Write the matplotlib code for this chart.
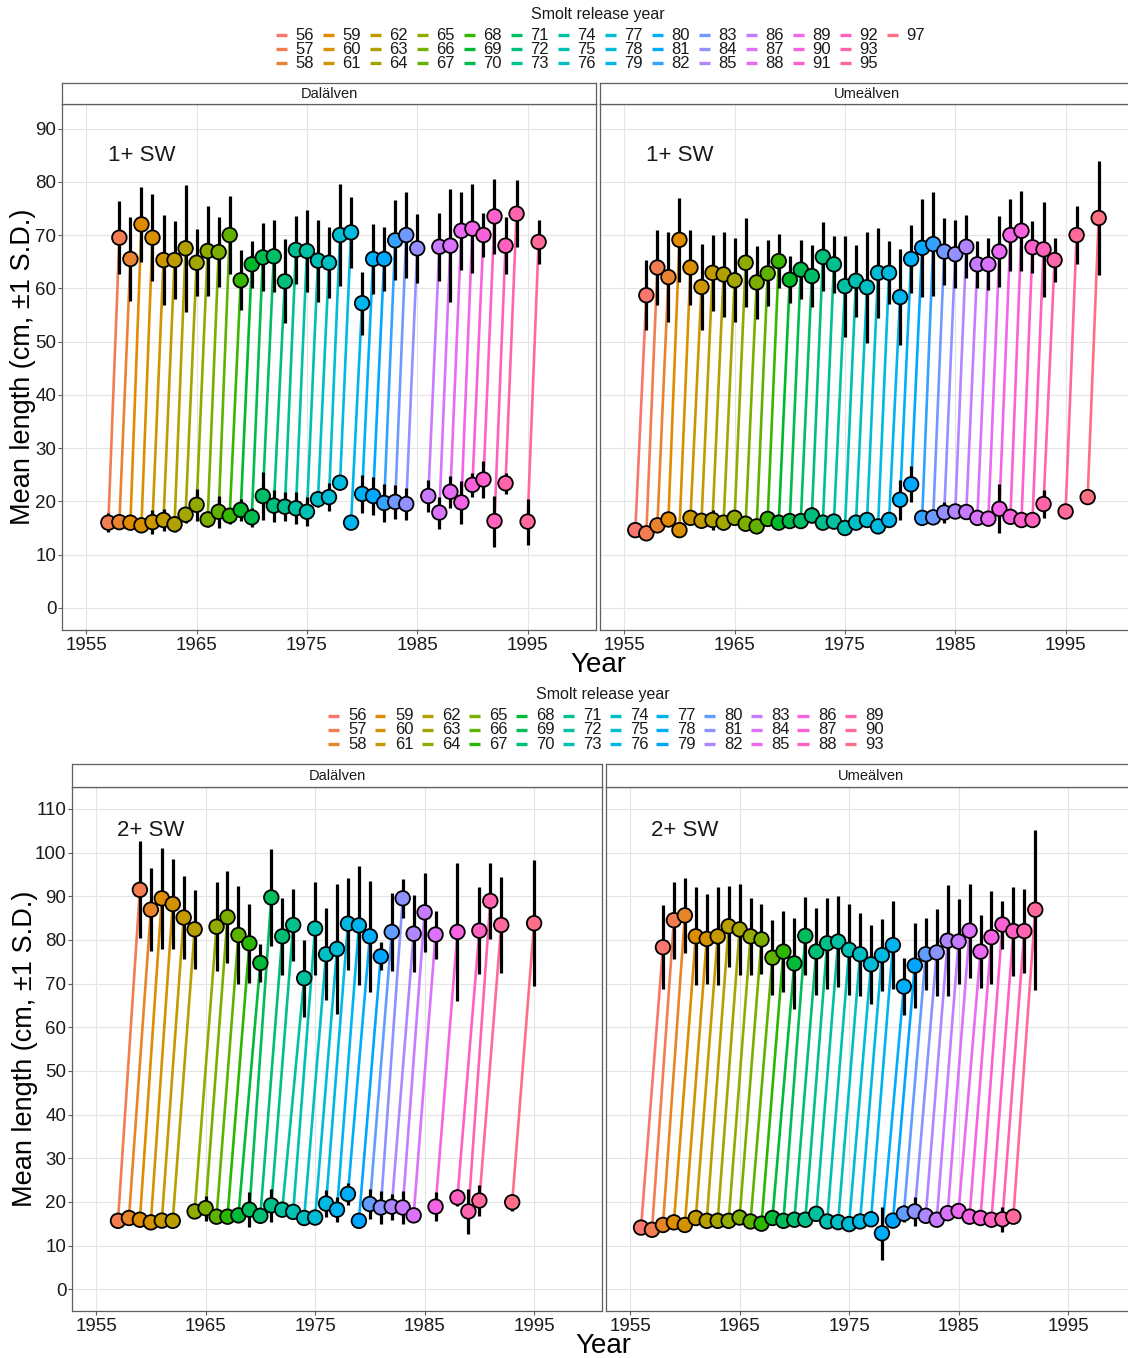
import numpy as np
import matplotlib
matplotlib.use("Agg")
import matplotlib.pyplot as plt
from matplotlib.lines import Line2D

plt.rcParams['font.family'] = ['Liberation Sans', 'DejaVu Sans']

# ---------------- DATA ----------------
# Dalälven, 1+ SW (smolt release years, smolt length, adult length one year later)
dal1_year = list(range(57, 85)) + list(range(86, 94)) + [95]
dal1_smolt = [16.0, 16.1, 16.0, 15.5, 16.1, 16.5, 15.7, 17.5, 19.35, 16.6, 18.05, 17.3, 18.4, 17.0,
              21.0, 19.2, 19.0, 18.7, 18.05, 20.4, 20.8, 23.5, 16.0, 21.4, 21.0, 19.7, 19.9, 19.5,
              21.0, 17.9, 21.8, 19.8, 23.1, 24.1, 16.3, 23.4, 16.2]
dal1_smolt_sd = [1.8, 1.2, 1.2, 1.2, 2.3, 2.0, 1.5, 1.5, 3.0, 1.5, 3.0, 1.5, 2.0, 1.8,
                 4.5, 3.0, 2.7, 3.0, 2.7, 1.5, 2.7, 1.2, 1.0, 3.5, 3.5, 3.5, 3.2, 3.0,
                 3.0, 3.0, 3.0, 4.0, 2.3, 3.5, 4.8, 2.0, 4.3]
dal1_adult = [69.5, 65.5, 72.0, 69.5, 65.3, 65.3, 67.5, 64.8, 67.0, 66.8, 70.0, 61.5, 64.5, 65.8,
              66.0, 61.3, 67.2, 67.0, 65.2, 64.8, 70.0, 70.5, 57.2, 65.5, 65.5, 69.0, 70.0, 67.5,
              67.8, 68.0, 70.8, 71.2, 70.0, 73.5, 68.0, 74.0, 68.7]
dal1_adult_sd = [6.9, 7.9, 7.0, 8.2, 8.4, 7.3, 11.9, 6.3, 8.5, 6.6, 7.4, 5.6, 4.4, 6.4,
                 6.75, 7.9, 6.3, 7.7, 7.7, 6.7, 9.5, 6.6, 5.9, 6.6, 6.0, 7.5, 8.1, 6.5,
                 6.4, 10.6, 7.3, 8.3, 4.2, 7.0, 5.4, 6.3, 4.05]

# Umeälven, 1+ SW
ume1_year = list(range(56, 94)) + [95, 97]
ume1_smolt = [14.6, 14.0, 15.5, 16.6, 14.6, 16.9, 16.35, 16.5, 16.0, 16.9, 15.8, 15.3, 16.7, 16.0,
              16.3, 16.3, 17.35, 16.0, 16.2, 15.0, 16.0, 16.5, 15.3, 16.5, 20.3, 23.2, 16.9, 17.0,
              17.9, 18.1, 18.0, 16.9, 16.75, 18.6, 17.1, 16.5, 16.5, 19.5, 18.1, 20.8]
ume1_smolt_sd = [1.0, 1.2, 1.0, 1.0, 1.0, 1.0, 1.0, 1.8, 1.0, 1.3, 1.0, 1.0, 1.2, 1.0,
                 1.0, 1.0, 1.5, 1.0, 1.0, 1.0, 1.0, 1.0, 1.0, 1.0, 3.8, 3.4, 1.0, 1.0,
                 2.0, 1.2, 1.2, 1.0, 1.2, 4.6, 1.0, 1.0, 1.0, 2.6, 1.0, 1.0]
ume1_adult = [58.7, 63.9, 62.1, 69.1, 63.9, 60.25, 62.9, 62.6, 61.5, 64.8, 61.1, 62.8, 65.1, 61.6,
              63.5, 62.3, 65.9, 64.5, 60.4, 61.4, 60.2, 62.9, 62.9, 58.35, 65.5, 67.6, 68.3, 66.9,
              66.4, 67.8, 64.5, 64.5, 66.9, 70.0, 70.8, 67.7, 67.3, 65.3, 70.0, 73.2]
ume1_adult_sd = [6.6, 7.1, 8.5, 7.9, 7.0, 8.1, 7.1, 7.9, 7.9, 8.4, 6.9, 6.2, 5.05, 4.4,
                 5.6, 5.9, 6.5, 5.4, 9.5, 6.8, 10.4, 8.4, 5.9, 9.0, 6.4, 9.2, 9.8, 6.3,
                 6.4, 5.9, 4.4, 4.9, 6.7, 6.8, 7.5, 4.9, 8.9, 4.1, 5.4, 10.7]

# Dalälven, 2+ SW (adult length two years after release)
dal2_year = list(range(57, 63)) + list(range(64, 85)) + [86, 88, 89, 90, 93]
dal2_smolt = [15.65, 16.3, 15.9, 15.3, 15.7, 15.65,
              17.8, 18.55, 16.6, 16.6, 16.9, 18.2, 16.8, 19.2, 18.2, 17.7, 16.3, 16.4, 19.6, 18.2,
              21.8, 15.65, 19.5, 18.7, 18.9, 18.7, 16.9,
              18.9, 21.0, 17.8, 20.3, 19.9]
dal2_smolt_sd = [1.0, 1.0, 1.0, 1.0, 1.5, 1.0,
                 1.0, 2.9, 1.0, 1.0, 1.0, 4.0, 1.0, 3.8, 1.5, 1.0, 1.5, 1.5, 3.0, 2.9,
                 2.6, 1.0, 3.4, 3.8, 3.0, 3.7, 1.5,
                 3.4, 2.0, 5.2, 3.6, 1.9]
dal2_adult = [91.45, 86.9, 89.5, 88.2, 85.1, 82.4,
              83.0, 85.2, 81.1, 79.2, 74.7, 89.7, 80.8, 83.4, 71.2, 82.6, 76.7, 77.9, 83.7, 83.3,
              80.8, 76.2, 81.8, 89.5, 81.4, 86.3, 81.2,
              81.8, 82.1, 88.9, 83.4, 83.8]
dal2_adult_sd = [11.1, 9.5, 11.5, 10.2, 9.5, 9.0,
                 10.2, 10.6, 11.2, 9.0, 4.4, 11.1, 8.8, 8.2, 8.8, 10.6, 10.5, 14.9, 10.5, 13.7,
                 12.7, 3.2, 9.0, 4.4, 8.8, 9.0, 5.5,
                 15.9, 9.9, 8.6, 11.0, 14.4]

# Umeälven, 2+ SW
ume2_year = list(range(56, 91))
ume2_smolt = [14.1, 13.6, 14.7, 15.3, 14.7, 16.3, 15.65, 15.65, 15.65, 16.4, 15.5, 15.0, 16.3, 15.65,
              15.9, 15.9, 17.25, 15.5, 15.35, 14.9, 15.5, 16.0, 12.8, 15.7, 17.3, 17.8, 16.8, 15.9,
              17.4, 17.9, 16.6, 16.3, 15.9, 16.0, 16.6]
ume2_smolt_sd = [1.0, 1.0, 1.0, 1.0, 1.0, 1.0, 1.0, 1.0, 1.0, 1.0, 1.0, 1.0, 1.0, 1.0,
                 1.0, 1.0, 1.0, 1.0, 1.0, 1.0, 1.0, 1.0, 6.1, 1.0, 2.0, 3.4, 1.0, 1.0,
                 1.0, 1.0, 1.0, 1.0, 1.0, 2.9, 1.0]
ume2_adult = [78.3, 84.5, 85.6, 80.8, 80.2, 80.8, 83.1, 82.4, 80.8, 80.1, 75.9, 77.3, 74.6, 80.9,
              77.3, 79.2, 79.6, 77.7, 76.7, 74.4, 76.5, 78.8, 69.3, 74.1, 76.7, 77.1, 79.8, 79.6,
              82.1, 77.3, 80.6, 83.5, 82.0, 82.0, 86.9]
ume2_adult_sd = [9.6, 8.8, 8.6, 11.2, 10.4, 11.2, 9.3, 10.4, 8.8, 8.0, 8.6, 9.3, 10.5, 9.0,
                 10.0, 10.4, 10.5, 10.4, 9.5, 9.0, 8.3, 10.0, 6.5, 9.8, 8.2, 10.0, 12.7, 9.8,
                 10.8, 8.3, 10.6, 5.5, 10.2, 9.6, 18.3]

rivers = ["Dalälven", "Umeälven"]
sea_labels = ["1+ SW", "2+ SW"]
x_ticks = [1955, 1965, 1975, 1985, 1995]
y_ticks_top = list(range(0, 91, 10))
y_ticks_bottom = list(range(0, 111, 10))
legend_title = "Smolt release year"
x_title = "Year"
y_title = "Mean length (cm, \u00b11 S.D.)"

# ---------------- COLOURS (ggplot2 hue palette) ----------------
def hcl_hex(h, c=100.0, l=65.0):
    Xn, Yn, Zn = 95.047, 100.0, 108.883
    hr = np.deg2rad(h)
    u, v = c * np.cos(hr), c * np.sin(hr)
    Y = Yn * ((l + 16.0) / 116.0) ** 3 if l > 8 else Yn * l / 903.3
    d = Xn + 15 * Yn + 3 * Zn
    un, vn = 4 * Xn / d, 9 * Yn / d
    up, vp = u / (13 * l) + un, v / (13 * l) + vn
    X = 9.0 * Y * up / (4.0 * vp)
    Z = -X / 3.0 - 5.0 * Y + 3.0 * Y / vp
    M = np.array([[3.240479, -1.537150, -0.498535],
                  [-0.969256, 1.875992, 0.041556],
                  [0.055648, -0.204043, 1.057311]])
    rgb = M @ (np.array([X, Y, Z]) / 100.0)
    out = []
    for ch in rgb:
        ch = 12.92 * ch if ch <= 0.0031308 else 1.055 * ch ** (1 / 2.4) - 0.055
        out.append(min(max(ch, 0.0), 1.0))
    return tuple(out)

def hue_pal(levels):
    n = len(levels)
    return {lv: hcl_hex(15 + 360.0 * i / n) for i, lv in enumerate(levels)}

# ---------------- FIGURE ----------------
W, H = 1128, 1358
fig = plt.figure(figsize=(W / 100, H / 100), dpi=100)

def px_axes(x0, y0, w, h):
    return fig.add_axes([x0 / W, 1 - (y0 + h) / H, w / W, h / H])

def fx(x):
    return x / W

def fy(y):
    return 1 - y / H

BORDER = '#5f5f5f'
GRID = '#e4e4e4'

def draw_legend(levels, cols, title_xy, x_key0, x_lab0, y_row0):
    fig.text(fx(title_xy[0]), fy(title_xy[1]), legend_title, ha='center', va='center',
             fontsize=11.5, color='#1a1a1a')
    for i, lv in enumerate(levels):
        col, row = divmod(i, 3)
        yk = y_row0 + 14 * row
        xk = x_key0 + 47 * col
        fig.add_artist(Line2D([fx(xk - 5.5), fx(xk + 5.5)], [fy(yk), fy(yk)],
                              transform=fig.transFigure, color=cols[lv], lw=2.4,
                              solid_capstyle='butt'))
        fig.text(fx(x_lab0 + 47 * col), fy(yk), f"{lv}", ha='left', va='center',
                 fontsize=12, color='#1a1a1a')

def draw_panel(rect, strip_rect, river, years, smolt, smolt_sd, adult, adult_sd,
               age, cols, ylim, yticks, label, label_y, show_y):
    ax = px_axes(*rect)
    yrs = np.array(years) + 1900
    smolt = np.array(smolt); adult = np.array(adult)
    smolt_sd = np.array(smolt_sd); adult_sd = np.array(adult_sd)
    for y, s, a, lv in zip(yrs, smolt, adult, years):
        ax.plot([y, y + age], [s, a], color=cols[lv], lw=1.9, zorder=2,
                solid_capstyle='butt')
    ax.vlines(yrs, smolt - smolt_sd, smolt + smolt_sd, color='black', lw=2.3, zorder=3)
    ax.vlines(yrs + age, adult - adult_sd, adult + adult_sd, color='black', lw=2.3, zorder=3)
    c = [cols[lv] for lv in years]
    ax.scatter(yrs, smolt, s=110, c=c, edgecolors='black', linewidths=1.3, zorder=4)
    ax.scatter(yrs + age, adult, s=110, c=c, edgecolors='black', linewidths=1.3, zorder=4)
    ax.text(1960, label_y, label, ha='center', va='center', fontsize=16, color='#1a1a1a')
    ax.set_xlim(1952.8, 2001.2)
    ax.set_ylim(*ylim)
    ax.set_xticks(x_ticks)
    ax.set_yticks(yticks)
    ax.grid(True, color=GRID, lw=0.8)
    ax.set_axisbelow(True)
    for sp in ax.spines.values():
        sp.set_color(BORDER)
        sp.set_linewidth(0.9)
    ax.tick_params(axis='both', colors=BORDER, length=2.8, width=0.8, labelsize=13.5,
                   labelcolor='#1a1a1a')
    ax.tick_params(axis='x', pad=2.5)
    ax.tick_params(axis='y', pad=1.2)
    if not show_y:
        ax.tick_params(axis='y', left=False, labelleft=False)
    sax = px_axes(*strip_rect)
    sax.set_xticks([]); sax.set_yticks([])
    sax.set_facecolor('white')
    for sp in sax.spines.values():
        sp.set_color(BORDER)
        sp.set_linewidth(0.9)
    sax.text(0.5, 0.5, river, transform=sax.transAxes, ha='center',
             va='center', fontsize=10.5, color='#1a1a1a')
    return ax

# ---- top block (1+ SW) ----
top_levels = sorted(set(dal1_year) | set(ume1_year))
top_cols = hue_pal(top_levels)
draw_legend(top_levels, top_cols, (598, 14), 281, 295, 35)
draw_panel((62, 104, 534, 526), (62, 83, 534, 21), rivers[0], dal1_year, dal1_smolt,
           dal1_smolt_sd, dal1_adult, dal1_adult_sd, 1, top_cols, (-4.15, 94.6),
           y_ticks_top, sea_labels[0], 85, True)
draw_panel((600, 104, 534, 526), (600, 83, 534, 21), rivers[1], ume1_year, ume1_smolt,
           ume1_smolt_sd, ume1_adult, ume1_adult_sd, 1, top_cols, (-4.15, 94.6),
           y_ticks_top, sea_labels[0], 85, False)
fig.text(fx(598), fy(665), x_title, ha='center', va='center', fontsize=20, color='black')
fig.text(fx(23), fy(367), y_title, ha='center', va='center', rotation=90, fontsize=19.5,
         color='black')

# ---- bottom block (2+ SW) ----
bot_levels = sorted(set(dal2_year) | set(ume2_year))
bot_cols = hue_pal(bot_levels)
draw_legend(bot_levels, bot_cols, (603, 694), 333, 348, 716)
draw_panel((72, 787, 530, 524), (72, 764, 530, 23), rivers[0], dal2_year, dal2_smolt,
           dal2_smolt_sd, dal2_adult, dal2_adult_sd, 2, bot_cols, (-5.0, 115.0),
           y_ticks_bottom, sea_labels[1], 105, True)
draw_panel((606, 787, 530, 524), (606, 764, 530, 23), rivers[1], ume2_year, ume2_smolt,
           ume2_smolt_sd, ume2_adult, ume2_adult_sd, 2, bot_cols, (-5.0, 115.0),
           y_ticks_bottom, sea_labels[1], 105, False)
fig.text(fx(603), fy(1346), x_title, ha='center', va='center', fontsize=20, color='black')
fig.text(fx(25), fy(1049), y_title, ha='center', va='center', rotation=90, fontsize=19.5,
         color='black')

fig.savefig("out.png", dpi=100, facecolor='white')
